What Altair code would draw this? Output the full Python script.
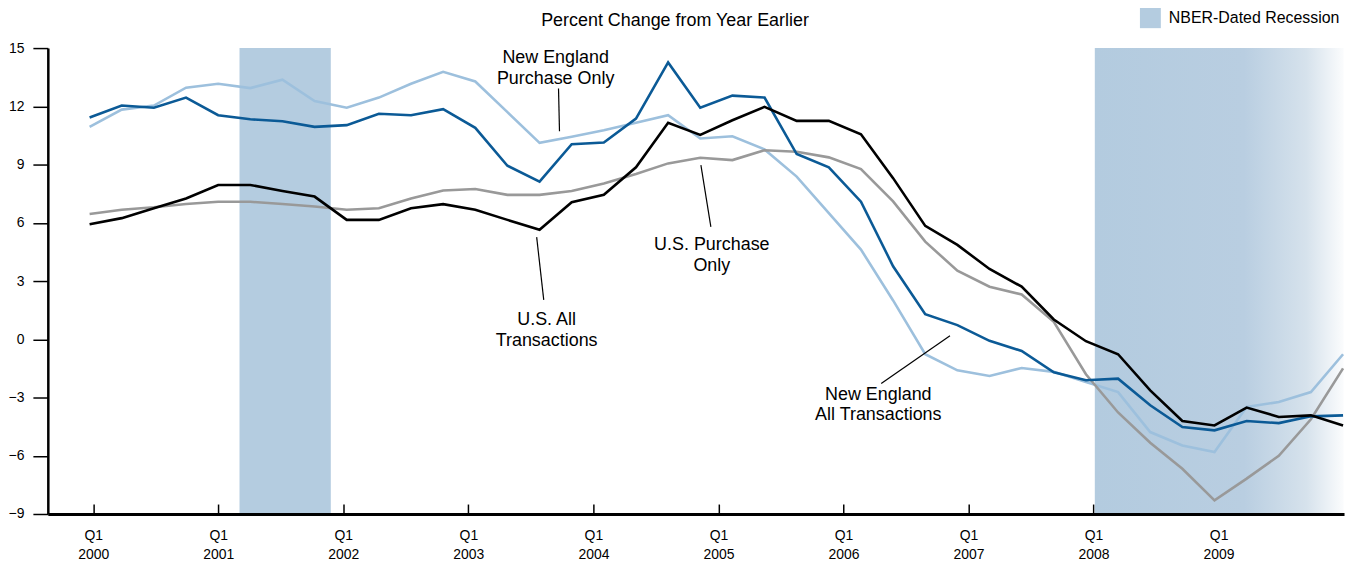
import altair as alt
import pandas as pd

# ---------------- data ----------------
# quarterly observations, 2000 Q1 ... 2009 Q4 (index 0..39)
NE_ALL = [11.42, 12.04, 11.93, 12.45, 11.54, 11.33, 11.23, 10.94, 11.03, 11.62,
          11.54, 11.85, 10.89, 8.94, 8.12, 10.05, 10.14, 11.37, 14.26, 11.93,
          12.55, 12.45, 9.54, 8.86, 7.09, 3.76, 1.29, 0.73, -0.08, -0.60,
          -1.70, -2.11, -2.03, -3.40, -4.52, -4.69, -4.21, -4.32, -3.97, -3.92]
NE_PO = [10.94, 11.83, 12.04, 12.96, 13.16, 12.94, 13.37, 12.27, 11.93, 12.45,
         13.16, 13.78, 13.28, 11.70, 10.12, 10.43, 10.77, 11.15, 11.54, 10.34,
         10.46, 9.78, 8.38, 6.50, 4.62, 2.00, -0.77, -1.60, -1.89, -1.48,
         -1.68, -2.20, -2.72, -4.78, -5.47, -5.81, -3.49, -3.23, -2.72, -0.77]
US_ALL = [5.93, 6.24, 6.75, 7.25, 7.95, 7.95, 7.64, 7.35, 6.15, 6.15,
          6.75, 6.96, 6.67, 6.15, 5.64, 7.06, 7.44, 8.86, 11.15, 10.53,
          11.28, 11.97, 11.25, 11.25, 10.56, 8.30, 5.84, 4.86, 3.62, 2.71,
          1.02, -0.10, -0.77, -2.63, -4.21, -4.44, -3.52, -4.00, -3.92, -4.44]
US_PO = [6.45, 6.67, 6.80, 6.97, 7.08, 7.08, 6.97, 6.84, 6.67, 6.75,
         7.25, 7.66, 7.74, 7.44, 7.44, 7.64, 8.03, 8.51, 9.06, 9.35,
         9.23, 9.74, 9.66, 9.37, 8.77, 7.10, 5.03, 3.53, 2.71, 2.31,
         0.90, -1.80, -3.77, -5.33, -6.67, -8.30, -7.18, -6.00, -4.12, -1.50]

Y_TICKS = [-9, -6, -3, 0, 3, 6, 9, 12, 15]
YEAR_TICKS = [2000, 2001, 2002, 2003, 2004, 2005, 2006, 2007, 2008, 2009]

REC_LABEL = ["NBER-Dated Recession"]
REC1_START = [2001.17]
REC1_END = [2001.90]
REC2_START = [2008.01]
REC2_END = [2010.0]

ANN_TEXT = ["New England\nPurchase Only", "U.S. Purchase\nOnly",
            "U.S. All\nTransactions", "New England\nAll Transactions"]
ANN_X = [14.50, 19.36, 14.22, 24.54]
ANN_Y = [14.49, 4.85, 1.00, -2.85]
LEAD_X1 = [14.59, 19.02, 13.91, 24.63]
LEAD_Y1 = [12.92, 8.97, 5.26, -2.28]
LEAD_X2 = [14.62, 19.33, 14.13, 26.77]
LEAD_Y2 = [10.72, 5.79, 2.03, 0.18]

# ---------------- layout / style ----------------
W, H = 1302, 468
FONT = "Liberation Sans"

X_IDX = alt.Scale(domain=[-1.30, 39.03], nice=False, zero=False)
X_YR = alt.Scale(domain=[1999.637, 2010.003], nice=False, zero=False)
Y_SC = alt.Scale(domain=[-9, 15], nice=False, zero=False)

y_axis = alt.Axis(values=Y_TICKS, title=None, grid=False, tickSize=15,
                  tickWidth=1.5, tickColor="black", domainColor="black",
                  domainWidth=2.5, labelFontSize=14, labelFont=FONT,
                  labelColor="black", labelPadding=9, zindex=1)

x_axis = alt.Axis(orient="bottom", values=YEAR_TICKS,
                  labelExpr="['Q1', '' + datum.value]", ticks=False, tickSize=0,
                  domain=True, domainColor="black", domainWidth=3,
                  labelFontSize=14, labelFont=FONT, labelColor="black",
                  labelPadding=15, labelLineHeight=19, labelBaseline="top",
                  title=None, grid=False, zindex=1, labelFlush=False)

tick_axis = alt.Axis(orient="top", offset=-H, values=YEAR_TICKS, labels=False,
                     domain=False, ticks=True, tickSize=10, tickWidth=1.5,
                     tickColor="black", grid=False, title=None, zindex=0)

# ---------------- recession shading (year scale) ----------------
rec1_df = pd.DataFrame({"s": REC1_START, "e": REC1_END, "label": REC_LABEL})
rec2_df = pd.DataFrame({"s": REC2_START, "e": REC2_END})

rec1 = alt.Chart(rec1_df).mark_rect(strokeWidth=0).encode(
    x=alt.X("s:Q", scale=X_YR, axis=x_axis),
    x2="e:Q",
    y=alt.datum(15),
    y2=alt.datum(-9),
    color=alt.Color("label:N", scale=alt.Scale(range=["#b4cce0"]),
                    legend=alt.Legend(title=None, orient="none", legendX=1097,
                                      legendY=-41, symbolType="square",
                                      symbolSize=441, symbolStrokeWidth=0,
                                      symbolOpacity=1, labelFontSize=16,
                                      labelFont=FONT, labelColor="black",
                                      labelOffset=8, labelLimit=0, padding=0)),
)

grad = alt.Gradient(gradient="linear", x1=0, x2=1, y1=0, y2=0,
                    stops=[alt.GradientStop(offset=0, color="#b3cbdf"),
                           alt.GradientStop(offset=0.6, color="#b9cee1"),
                           alt.GradientStop(offset=0.85, color="#d6e2ec"),
                           alt.GradientStop(offset=1, color="#fbfcfd")])
rec2 = alt.Chart(rec2_df).mark_rect(fill=grad, strokeWidth=0).encode(
    x=alt.X("s:Q", scale=X_YR, axis=x_axis),
    x2="e:Q",
    y=alt.datum(15),
    y2=alt.datum(-9),
)

year_group = alt.layer(rec1, rec2)

tick_layer = alt.Chart(pd.DataFrame({"yr": YEAR_TICKS})).mark_point(opacity=0).encode(
    x=alt.X("yr:Q", scale=X_YR, axis=tick_axis),
    y=alt.datum(0),
)

# ---------------- series lines (quarter index scale) ----------------
def line_layer(vals, color, width):
    df = pd.DataFrame({"q": list(range(len(vals))), "v": vals})
    return alt.Chart(df).mark_line(color=color, strokeWidth=width).encode(
        x=alt.X("q:Q", scale=X_IDX, axis=None),
        y=alt.Y("v:Q", scale=Y_SC, axis=y_axis),
    )

lines = [
    line_layer(NE_PO, "#9dc0dd", 2.6),
    line_layer(US_PO, "#999999", 2.6),
    line_layer(NE_ALL, "#0b5a96", 2.6),
    line_layer(US_ALL, "#000000", 2.6),
]

ann_df = pd.DataFrame({"x": ANN_X, "y": ANN_Y, "t": ANN_TEXT})
ann = alt.Chart(ann_df).mark_text(lineBreak="\n", fontSize=18, font=FONT,
                                  baseline="middle", align="center",
                                  lineHeight=21, color="black").encode(
    x=alt.X("x:Q", scale=X_IDX, axis=None),
    y=alt.Y("y:Q", scale=Y_SC, axis=y_axis),
    text="t:N",
)

lead_df = pd.DataFrame({"x1": LEAD_X1, "y1": LEAD_Y1, "x2": LEAD_X2, "y2": LEAD_Y2})
leads = alt.Chart(lead_df).mark_rule(color="black", strokeWidth=1.2).encode(
    x=alt.X("x1:Q", scale=X_IDX, axis=None),
    x2="x2:Q",
    y=alt.Y("y1:Q", scale=Y_SC, axis=y_axis),
    y2="y2:Q",
)

idx_group = alt.layer(*lines, leads, ann)

chart = alt.layer(year_group, tick_layer, idx_group).resolve_scale(
    x="independent", color="independent"
).properties(
    width=W,
    height=H,
    autosize=alt.AutoSizeParams(type="none"),
    padding={"left": 40, "top": 39, "right": 5, "bottom": 54},
    title=alt.TitleParams("Percent Change from Year Earlier", fontSize=18,
                          font=FONT, fontWeight="normal", color="black",
                          anchor="middle", dx=-21, frame="group", offset=-23),
).configure_view(stroke=None)

chart.save("out.html", embed_options={"renderer": "svg", "actions": False})
